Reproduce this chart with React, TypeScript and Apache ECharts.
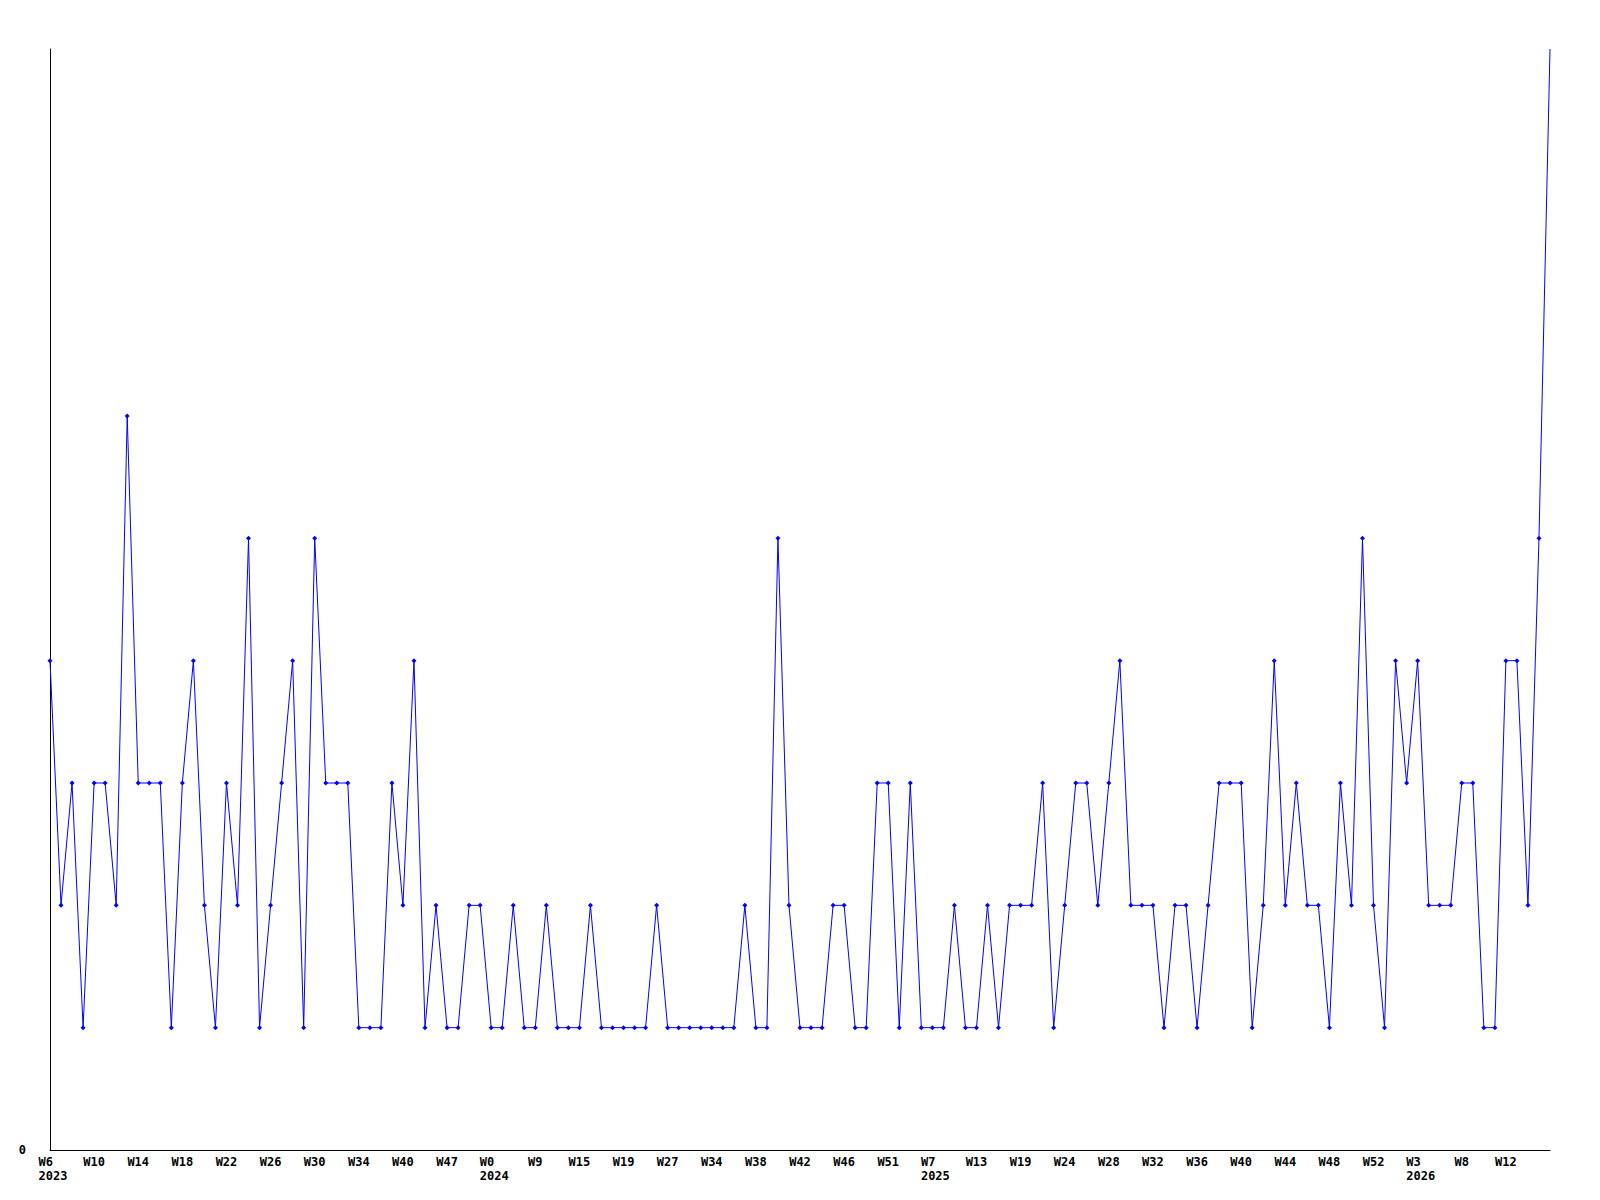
import React, { useEffect, useRef } from "react";
import * as echarts from "echarts";

// Category labels: "year-week"
const weeks: string[] = [
  "2023-W6", "2023-W7", "2023-W8", "2023-W9", "2023-W10", "2023-W11", "2023-W12", "2023-W13",
  "2023-W14", "2023-W15", "2023-W16", "2023-W17", "2023-W18", "2023-W19", "2023-W20", "2023-W21",
  "2023-W22", "2023-W23", "2023-W24", "2023-W25", "2023-W26", "2023-W27", "2023-W28", "2023-W29",
  "2023-W30", "2023-W31", "2023-W32", "2023-W33", "2023-W34", "2023-W36", "2023-W37", "2023-W39",
  "2023-W40", "2023-W42", "2023-W44", "2023-W46", "2023-W47", "2023-W49", "2023-W50", "2023-W52",
  "2024-W0", "2024-W2", "2024-W5", "2024-W7", "2024-W9", "2024-W10", "2024-W12", "2024-W14",
  "2024-W15", "2024-W16", "2024-W17", "2024-W18", "2024-W19", "2024-W21", "2024-W23", "2024-W25",
  "2024-W27", "2024-W29", "2024-W31", "2024-W32", "2024-W34", "2024-W35", "2024-W36", "2024-W37",
  "2024-W38", "2024-W39", "2024-W40", "2024-W41", "2024-W42", "2024-W43", "2024-W44", "2024-W45",
  "2024-W46", "2024-W48", "2024-W49", "2024-W50", "2024-W51", "2024-W52",
  "2025-W2", "2025-W4", "2025-W7", "2025-W9", "2025-W10", "2025-W12", "2025-W13", "2025-W15",
  "2025-W16", "2025-W18", "2025-W19", "2025-W20", "2025-W22", "2025-W23", "2025-W24", "2025-W25",
  "2025-W26", "2025-W27", "2025-W28", "2025-W29", "2025-W30", "2025-W31", "2025-W32", "2025-W33",
  "2025-W34", "2025-W35", "2025-W36", "2025-W37", "2025-W38", "2025-W39", "2025-W40", "2025-W41",
  "2025-W42", "2025-W43", "2025-W44", "2025-W45", "2025-W46", "2025-W47", "2025-W48", "2025-W49",
  "2025-W50", "2025-W51", "2025-W52",
  "2026-W0", "2026-W1", "2026-W2", "2026-W3", "2026-W5", "2026-W6", "2026-W7", "2026-W8",
  "2026-W9", "2026-W10", "2026-W11", "2026-W12", "2026-W13", "2026-W14", "2026-W15", "2026-W16",
];

const values: number[] = [
  4, 2, 3, 1, 3, 3, 2, 6, 3, 3, 3, 1, 3, 4, 2, 1, 3, 2, 5, 1,
  2, 3, 4, 1, 5, 3, 3, 3, 1, 1, 1, 3, 2, 4, 1, 2, 1, 1, 2, 2,
  1, 1, 2, 1, 1, 2, 1, 1, 1, 2, 1, 1, 1, 1, 1, 2, 1, 1, 1, 1,
  1, 1, 1, 2, 1, 1, 5, 2, 1, 1, 1, 2, 2, 1, 1, 3, 3, 1, 3, 1,
  1, 1, 2, 1, 1, 2, 1, 2, 2, 2, 3, 1, 2, 3, 3, 2, 3, 4, 2, 2,
  2, 1, 2, 2, 1, 2, 3, 3, 3, 1, 2, 4, 2, 3, 2, 2, 1, 3, 2, 5,
  2, 1, 4, 3, 4, 2, 2, 2, 3, 3, 1, 1, 4, 4, 2, 5, 9,
];

const yMin = 0;
const yMax = 9;
const yLabels: number[] = [0];

const FONT = "'DejaVu Sans Mono', 'Liberation Mono', monospace";

export default function App() {
  const ref = useRef<HTMLDivElement>(null);

  useEffect(() => {
    if (!ref.current) return;
    const chart = echarts.init(ref.current, null, { renderer: "svg" });
    const yearOf = (i: number) => weeks[i].split("-")[0];
    const labelText = {
      fontFamily: FONT,
      fontSize: 12,
      fontWeight: "bold",
      color: "#000",
      lineHeight: 14,
    };
    // the top point (at the plot edge) shows no marker in the reference
    const seriesData = values.map((v, i) =>
      v >= yMax ? { value: v, symbol: "none" } : v
    );
    chart.setOption({
      animation: false,
      backgroundColor: "#ffffff",
      grid: { left: 50, right: 50, top: 49, bottom: 50 },
      xAxis: {
        type: "category",
        data: weeks,
        boundaryGap: false,
        axisLine: { show: true, lineStyle: { color: "#000", width: 1 } },
        axisTick: { show: false },
        splitLine: { show: false },
        axisLabel: {
          ...labelText,
          margin: 5,
          interval: (i: number) => i % 4 === 0 && i < weeks.length - 1,
          formatter: (val: string, i: number) => {
            const [yr, wk] = val.split("-");
            const prev = i >= 4 ? yearOf(i - 4) : null;
            if (yr !== prev) return `{l|${wk}}\n{l|${yr}}`;
            return `{c|${wk}}`;
          },
          rich: {
            l: { ...labelText, align: "left", padding: [0, 0, 0, 6] },
            c: { ...labelText },
          },
        },
      },
      yAxis: {
        type: "value",
        min: yMin,
        max: yMax,
        interval: 1,
        axisLine: { show: true, lineStyle: { color: "#000", width: 1 } },
        axisTick: { show: false },
        splitLine: { show: false },
        axisLabel: {
          ...labelText,
          margin: 24,
          formatter: (v: number) => (yLabels.includes(v) ? String(v) : ""),
        },
      },
      series: [
        {
          type: "line",
          data: seriesData,
          showAllSymbol: true,
          symbol: "diamond",
          symbolSize: 5,
          lineStyle: { color: "#0000ff", width: 1 },
          itemStyle: { color: "#0000ff" },
          emphasis: { disabled: true },
        },
      ],
    });
    return () => chart.dispose();
  }, []);

  return (
    <div
      ref={ref}
      style={{ position: "fixed", left: 0, top: 0, width: 1600, height: 1200, background: "#fff" }}
    />
  );
}
